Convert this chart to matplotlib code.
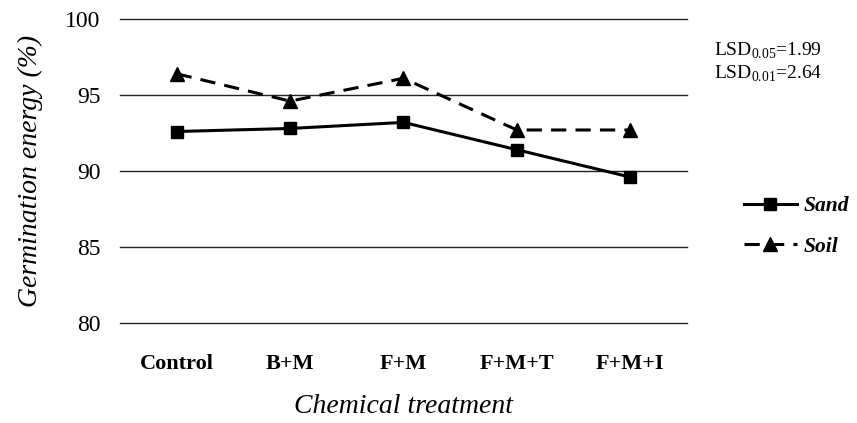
import matplotlib
matplotlib.use("Agg")
import matplotlib.pyplot as plt

plt.rcParams['font.family'] = ['Liberation Serif', 'DejaVu Serif']
plt.rcParams['mathtext.fontset'] = 'custom'
plt.rcParams['mathtext.rm'] = 'Liberation Serif'

# data
treatments = ["Control", "B+M", "F+M", "F+M+T", "F+M+I"]
sand = [92.6, 92.8, 93.2, 91.4, 89.6]
soil = [96.4, 94.6, 96.1, 92.7, 92.7]
y_ticks = [80, 85, 90, 95, 100]

fig = plt.figure(figsize=(8.57, 4.23), dpi=100)
ax = fig.add_axes([0.14, 0.2364, 0.6616, 0.7186])

x = list(range(len(treatments)))
ax.plot(x, sand, color="black", lw=2.2, marker="s", markersize=8.5, label="Sand")
ax.plot(x, soil, color="black", lw=2.2, linestyle=(0, (5, 3)), marker="^",
        markersize=10.5, label="Soil")

ax.set_xlim(-0.5, 4.5)
ax.set_ylim(80, 100)
ax.set_yticks(y_ticks)
ax.set_xticks(x)
ax.set_xticklabels(treatments, fontsize=16, fontweight="bold")
ax.tick_params(axis="y", length=0, labelsize=17, pad=14)
ax.tick_params(axis="x", length=0, pad=22)
ax.grid(axis="y", color="#222222", lw=1)
for gl in ax.get_ygridlines():
    gl.set_clip_on(False)
ax.set_axisbelow(True)
for s in ax.spines.values():
    s.set_visible(False)

ax.set_ylabel("Germination energy (%)", fontsize=20, style="italic", labelpad=16)
ax.set_xlabel("Chemical treatment", fontsize=20, style="italic", labelpad=15)

fig.text(0.833, 0.868, r"LSD$_{0.05}$=1.99", fontsize=14)
fig.text(0.833, 0.815, r"LSD$_{0.01}$=2.64", fontsize=14)

leg = fig.legend(loc="center left", bbox_to_anchor=(0.845, 0.465), frameon=False,
                 prop={"size": 15.5, "weight": "bold", "style": "italic"},
                 handlelength=2.5, labelspacing=0.95, handletextpad=0.3)

fig.savefig("out.png", dpi=100)
